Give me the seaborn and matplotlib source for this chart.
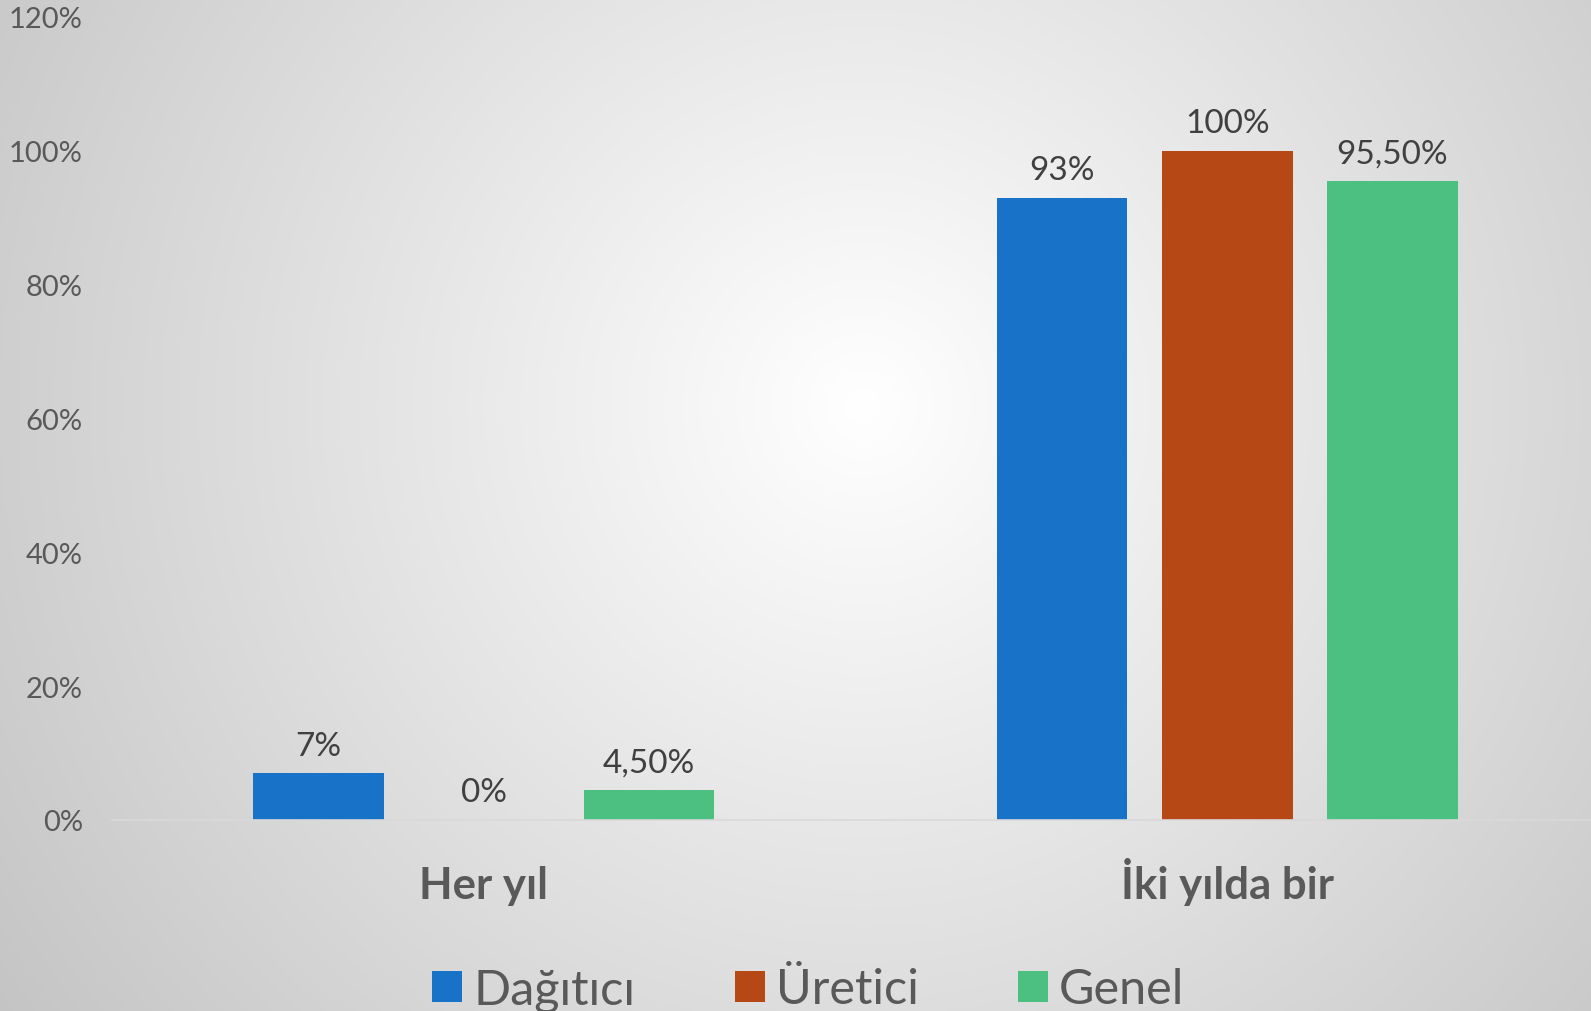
import numpy as np
import pandas as pd
import matplotlib
matplotlib.use("Agg")
import matplotlib.pyplot as plt
from matplotlib.patches import Patch
import seaborn as sns

categories = ["Her yıl", "İki yılda bir"]
series = ["Dağıtıcı", "Üretici", "Genel"]
dagitici = [7, 93]
uretici = [0, 100]
genel = [4.5, 95.5]
value_labels = {
    "Dağıtıcı": ["7%", "93%"],
    "Üretici": ["0%", "100%"],
    "Genel": ["4,50%", "95,50%"],
}
yticks = [0, 20, 40, 60, 80, 100, 120]
ytick_labels = ["0%", "20%", "40%", "60%", "80%", "100%", "120%"]
colors = ["#1873C8", "#B64816", "#4CC081"]

df = pd.DataFrame({
    "category": categories * 3,
    "series": [s for s in series for _ in categories],
    "value": dagitici + uretici + genel,
})

sns.set_theme(style="white")
plt.rcParams["font.family"] = ["Lato", "DejaVu Sans"]

W, H = 1591, 1012
fig = plt.figure(figsize=(W / 100, H / 100), dpi=100)

# radial gradient background
bg = fig.add_axes([0, 0, 1, 1], zorder=-10)
yy, xx = np.mgrid[0:H, 0:W]
cx, cy = 862, 406
d = np.sqrt((xx - cx) ** 2 + (yy - cy) ** 2)
dmax = np.sqrt(cx ** 2 + (H - cy) ** 2)
v = 1 - 0.23 * (d / dmax)
bg.imshow(np.dstack([v, v, v]), extent=[0, W, H, 0], aspect="auto")
bg.set_axis_off()

left, right, top, bottom = 112, 1599, 18, 821
ax = fig.add_axes([left / W, (H - bottom) / H, (right - left) / W, (bottom - top) / H])
ax.patch.set_alpha(0)

sns.barplot(data=df, x="category", y="value", hue="series", order=categories,
            hue_order=series, palette=colors, width=0.667, gap=0.21,
            saturation=1, legend=False, ax=ax, errorbar=None, linewidth=0)

for cont, s in zip(ax.containers, series):
    ax.bar_label(cont, labels=value_labels[s], padding=9, fontsize=24, color="#404040")

ax.set_ylim(0, 120)
ax.set_xlim(-0.5, 1.5)
ax.set_yticks(yticks)
ax.set_yticklabels(ytick_labels)
ax.tick_params(axis="y", length=0, pad=21, labelsize=21, labelcolor="#595959")
ax.tick_params(axis="x", length=0, pad=56, labelsize=31.5, labelcolor="#595959")
for lbl in ax.get_xticklabels():
    lbl.set_fontweight("bold")
    lbl.set_verticalalignment("baseline")
ax.set_xlabel("")
ax.set_ylabel("")
for sp in ["left", "right", "top"]:
    ax.spines[sp].set_visible(False)
ax.spines["bottom"].set_color("#d9d9d9")
ax.spines["bottom"].set_linewidth(1.2)
ax.grid(False)

handles = [Patch(facecolor=c, edgecolor="none", label=s) for c, s in zip(colors, series)]
leg = fig.legend(handles=handles, loc="center", bbox_to_anchor=(0.508, 0.021), ncol=3,
                 frameon=False, fontsize=35, handlelength=0.62, handleheight=0.62,
                 handletextpad=0.22, columnspacing=2.05, borderpad=0)
for t in leg.get_texts():
    t.set_color("#595959")

fig.savefig("out.png", dpi=100)
